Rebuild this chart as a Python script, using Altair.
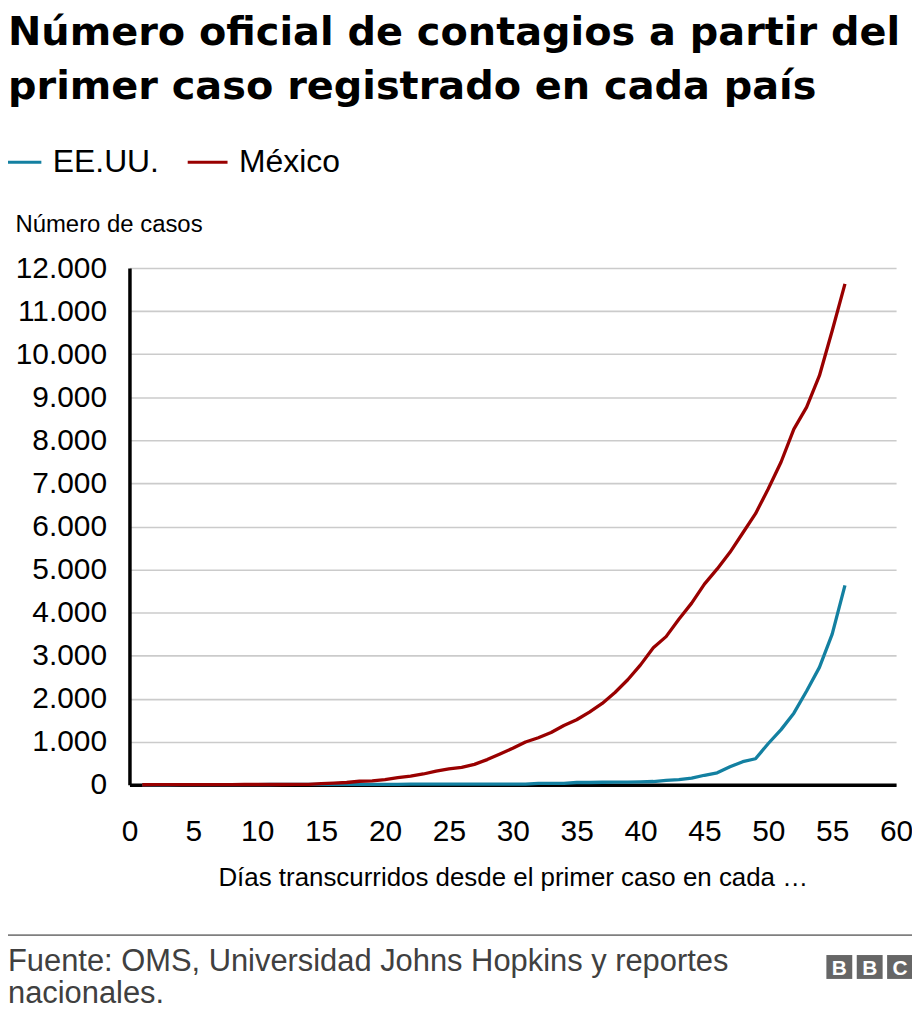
import altair as alt
import pandas as pd

# ---- data ----
days = list(range(1, 57))
usa = [1, 1, 1, 2, 2, 5, 5, 5, 5, 6, 7, 8, 8, 11, 11, 12, 12, 12, 12, 12, 12, 13,
       13, 14, 14, 14, 14, 14, 14, 14, 14, 35, 35, 35, 53, 53, 59, 60, 62, 70, 76,
       101, 122, 153, 221, 278, 417, 537, 605, 959, 1281, 1663, 2179, 2727, 3499, 4632]
mex = [1, 4, 5, 5, 5, 5, 5, 6, 7, 7, 7, 7, 8, 12, 26, 41, 53, 82, 93, 118, 164, 203,
       251, 316, 367, 405, 475, 585, 717, 848, 993, 1094, 1215, 1378, 1510, 1688, 1890,
       2143, 2439, 2785, 3181, 3441, 3844, 4219, 4661, 5014, 5399, 5847, 6297, 6875,
       7497, 8261, 8772, 9501, 10544, 11633]
series_names = ["EE.UU.", "México"]
series_colors = ["#1380A1", "#990000"]
x_ticks = [0, 5, 10, 15, 20, 25, 30, 35, 40, 45, 50, 55, 60]
y_ticks = [0, 1000, 2000, 3000, 4000, 5000, 6000, 7000, 8000, 9000, 10000, 11000, 12000]

title_text = "Número oficial de contagios a partir del\nprimer caso registrado en cada país"
y_title = "Número de casos"
x_title = "Días transcurridos desde el primer caso en cada …"
source_line1 = "Fuente: OMS, Universidad Johns Hopkins y reportes"
source_line2 = "nacionales."
logo_letters = ["B", "B", "C"]

df = pd.DataFrame({
    "dia": days + days,
    "casos": usa + mex,
    "pais": [series_names[0]] * len(days) + [series_names[1]] * len(days),
})

W, H = 770, 519
FONT = "Liberation Sans"

lines = alt.Chart(df).mark_line(strokeWidth=3.3, strokeJoin="round").encode(
    x=alt.X("dia:Q",
            scale=alt.Scale(domain=[0, 60], nice=False),
            axis=alt.Axis(values=x_ticks, title=x_title, grid=False, ticks=False, tickSize=0,
                          labelPadding=32, labelFontSize=30, labelFlush=False, labelOverlap=False,
                          labelColor="#000000", domainColor="#000000", domainWidth=3.5,
                          titleFontSize=26, titleFontWeight="normal", titleColor="#000000",
                          titleX=385, titleY=101, titleAlign="center", titleBaseline="alphabetic")),
    y=alt.Y("casos:Q",
            scale=alt.Scale(domain=[0, 12000], nice=False),
            axis=alt.Axis(values=y_ticks, title=y_title,
                          labelExpr="datum.value == 0 ? '0' : format(datum.value / 1000, 'd') + '.000'",
                          grid=True, gridColor="#cbcbcb", gridWidth=1.6, ticks=False, tickSize=0,
                          labelPadding=23, labelFontSize=30, labelOverlap=False, labelColor="#000000",
                          domainColor="#000000", domainWidth=3.5,
                          titleAngle=0, titleAlign="left", titleBaseline="alphabetic",
                          titleX=-115, titleY=-37, titleFontSize=24, titleFontWeight="normal",
                          titleColor="#000000")),
    color=alt.Color("pais:N",
                    scale=alt.Scale(domain=series_names, range=series_colors),
                    legend=alt.Legend(title=None, orient="none", legendX=-130, legendY=-128,
                                      direction="horizontal", symbolType="stroke", symbolSize=1600,
                                      symbolStrokeWidth=3, labelFontSize=32, labelOffset=10,
                                      columnPadding=22, padding=0, labelColor="#000000")),
)

title = alt.Chart(pd.DataFrame({"t": [title_text]})).mark_text(
    align="left", baseline="alphabetic", font="DejaVu Sans", fontWeight="bold",
    fontSize=40, lineBreak="\n", lineHeight=54, color="#000000"
).encode(x=alt.value(-122), y=alt.value(-224), text="t:N")

footer1 = alt.Chart(pd.DataFrame({"t": [source_line1]})).mark_text(
    align="left", baseline="alphabetic", font=FONT, fontSize=31, color="#404040"
).encode(x=alt.value(-122), y=alt.value(706), text="t:N")
footer2 = alt.Chart(pd.DataFrame({"t": [source_line2]})).mark_text(
    align="left", baseline="alphabetic", font=FONT, fontSize=31, color="#404040"
).encode(x=alt.value(-122), y=alt.value(738), text="t:N")

sep = alt.Chart(pd.DataFrame({"t": [0]})).mark_rule(color="#7f7f7f", strokeWidth=2).encode(
    x=alt.value(-122), x2=alt.value(790), y=alt.value(670))

logo_layers = []
for i, letter in enumerate(logo_letters):
    x0 = 700 + i * 30.5
    box = alt.Chart(pd.DataFrame({"t": [letter]})).mark_rect(color="#666666").encode(
        x=alt.value(x0), x2=alt.value(x0 + 26), y=alt.value(690), y2=alt.value(714))
    txt = alt.Chart(pd.DataFrame({"t": [letter]})).mark_text(
        align="center", baseline="alphabetic", font=FONT, fontWeight="bold",
        fontSize=21, color="#ffffff"
    ).encode(x=alt.value(x0 + 13), y=alt.value(710), text="t:N")
    logo_layers += [box, txt]

chart = alt.layer(lines, title, footer1, footer2, sep, *logo_layers).properties(
    width=W, height=H,
    autosize=alt.AutoSizeParams(type="none"),
    padding={"left": 122, "top": 259, "right": 16, "bottom": 228},
).configure(font=FONT).configure_view(strokeWidth=0)

chart.save("out.html", embed_options={"renderer": "svg", "actions": False})
